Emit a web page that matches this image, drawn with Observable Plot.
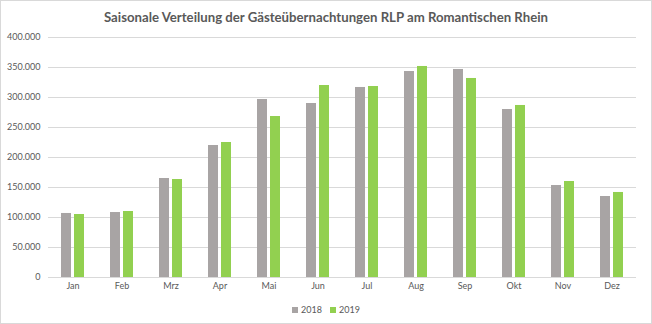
<!DOCTYPE html>
<html><head><meta charset="utf-8">
<script src="https://cdn.jsdelivr.net/npm/d3@7"></script>
<script src="https://cdn.jsdelivr.net/npm/@observablehq/plot@0.6"></script>
<style>
html,body{margin:0;padding:0;background:#fff;}
#chart{box-sizing:border-box;width:652px;height:324px;border:1px solid #d9d9d9;font-family:Lato,"Open Sans",sans-serif;color:#595959;overflow:hidden;}
#title{height:29px;line-height:32px;text-align:center;font-size:13.2px;font-weight:bold;color:#595959;white-space:nowrap;}
#legend{height:28px;display:flex;justify-content:center;align-items:center;font-size:9px;gap:8px;}
#legend span.sw{display:inline-block;width:6px;height:6px;margin-right:3px;vertical-align:-0px;}
svg{display:block;}
</style></head>
<body>
<div id="chart">
  <div id="title">Saisonale Verteilung der Gästeübernachtungen RLP am Romantischen Rhein</div>
  <div id="plot"></div>
  <div id="legend"></div>
</div>
<script>
const months = ["Jan","Feb","Mrz","Apr","Mai","Jun","Jul","Aug","Sep","Okt","Nov","Dez"];
const years = ["2018","2019"];
const values2018 = [106700,108300,165000,220000,296700,290000,316700,343300,346700,280000,153300,135000];
const values2019 = [105000,110000,163300,225000,268300,320000,318300,351700,331700,286700,160000,141700];
const yTicks = [0,50000,100000,150000,200000,250000,300000,350000,400000];
const colors = ["#a8a4a4","#92d050"];

const data = [];
months.forEach((m,i)=>{
  data.push({month:m, year:"2018", value:values2018[i]});
  data.push({month:m, year:"2019", value:values2019[i]});
});

const fmt = d3.formatLocale({decimal:",", thousands:".", grouping:[3], currency:["","€"]}).format(",");

const chart = Plot.plot({
  width: 650,
  height: 265,
  marginLeft: 43,
  marginRight: 11,
  marginTop: 7,
  marginBottom: 18,
  style: {fontFamily: "Lato, 'Open Sans', sans-serif", fontSize: "9px", color: "#595959", background: "#fff"},
  fx: {domain: months, padding: 0},
  x: {domain: years, paddingInner: 0.214, paddingOuter: 0.88, axis: null},
  y: {domain: [0, 400000], axis: null},
  color: {domain: years, range: colors},
  marks: [
    Plot.gridY(yTicks, {stroke: "#d9d9d9", strokeOpacity: 1}),
    Plot.barY(data, {fx: "month", x: "year", y: "value", fill: "year"}),
    Plot.axisY(yTicks, {tickFormat: fmt, tickSize: 0, tickPadding: 8, label: null, fill: "#595959"}),
    Plot.axisFx({anchor: "bottom", tickSize: 0, tickPadding: 5, label: null, fill: "#595959"})
  ]
});
document.getElementById("plot").appendChild(chart);

const legend = document.getElementById("legend");
years.forEach((y,i)=>{
  const item = document.createElement("span");
  item.innerHTML = `<span class="sw" style="background:${colors[i]}"></span>${y}`;
  legend.appendChild(item);
});
</script>
</body></html>
